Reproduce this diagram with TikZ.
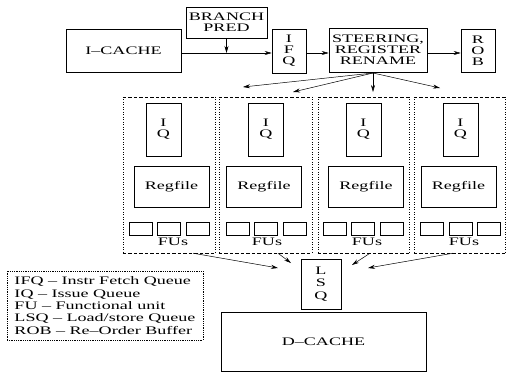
\documentclass[tikz,border=0pt]{standalone}
\usepackage{fontspec}
\setmainfont[FakeStretch=1.57]{Liberation Serif}
\usetikzlibrary{arrows.meta}
\begin{document}
\begin{tikzpicture}[x=1pt,y=-1pt,
  box/.style={draw,line width=0.6pt,inner sep=0pt,align=center,
    font=\fontsize{11.5}{11}\selectfont},
  lbl/.style={inner sep=0pt,font=\fontsize{11.5}{11}\selectfont},
  arr/.style={line width=0.5pt,-{Stealth[length=7pt,width=4pt]}},
  hdash/.style={line width=0.5pt,dash pattern=on 3.5pt off 2pt},
  vdot/.style={line width=0.6pt,dash pattern=on 1pt off 1.5pt},
  legend/.style={draw,line width=0.5pt,dash pattern=on 0.6pt off 1.2pt,inner sep=0pt,
    align=left,font=\fontsize{11.5}{12.3}\selectfont}]
\useasboundingbox (0,0) rectangle (506,373);

% top row
\node[box,minimum width=115pt,minimum height=43pt] (icache) at (123.5,50.5) {I--CACHE};
\node[box,minimum width=81pt,minimum height=31pt] (bp) at (226.5,22.5) {BRANCH\\PRED};
\node[box,minimum width=34pt,minimum height=44pt] (ifq) at (289,51) {I\\F\\Q};
\node[box,minimum width=98pt,minimum height=44pt] (steer) at (378,50) {STEERING,\\REGISTER\\RENAME};
\node[box,minimum width=34pt,minimum height=43pt] (rob) at (478,50.5) {R\\O\\B};

\coordinate (j) at (226.5,53);
\draw[line width=0.5pt] (icache.east |- j) -- (j);
\draw[arr] (j) -- (ifq.west |- j);
\draw[arr] (bp.south) -- (j);
\draw[arr] (ifq.east |- j) -- (steer.west |- j);
\draw[arr] (steer.east |- j) -- (rob.west |- j);

% clusters
\node[minimum width=92pt,minimum height=156pt,inner sep=0pt] (c1) at (169,175) {};
\node[minimum width=93pt,minimum height=156pt,inner sep=0pt] (c2) at (265.5,175) {};
\node[minimum width=91pt,minimum height=156pt,inner sep=0pt] (c3) at (363.5,175) {};
\node[minimum width=91pt,minimum height=156pt,inner sep=0pt] (c4) at (459.5,175) {};
\foreach \c in {c1,c2,c3,c4}{
  \draw[hdash] (\c.north west) -- (\c.north east);
  \draw[hdash] (\c.south west) -- (\c.south east);
  \draw[vdot] (\c.north west) -- (\c.south west);
  \draw[vdot] (\c.north east) -- (\c.south east);
}

\foreach \i/\qx/\rx/\fa/\fb/\fc/\lx in {1/163.5/171.5/140.5/168.5/197.5/173,
    2/266/264/237.5/266/294.5/267,
    3/363.5/366/334.5/363/392/367,
    4/460.5/458.5/431.5/461/489/464}{
  \node[box,minimum width=35pt,minimum height=53pt] (iq\i) at (\qx,129.5) {I\\Q};
  \node[box,minimum width=75pt,minimum height=41pt] (rf\i) at (\rx,186.5) {Regfile};
  \node[box,minimum width=23pt,minimum height=13pt] (fa\i) at (\fa,228.5) {};
  \node[box,minimum width=23pt,minimum height=13pt] (fb\i) at (\fb,228.5) {};
  \node[box,minimum width=23pt,minimum height=13pt] (fc\i) at (\fc,228.5) {};
  \node[lbl] (fl\i) at (\lx,242) {FUs};
}

% steering arrows
\coordinate (s0) at (373,73);
\coordinate (e1) at (243,87);
\coordinate (e2) at (293,92);
\coordinate (e3) at (373,92);
\coordinate (e4) at (440,88);
\foreach \e in {e1,e2,e3,e4}{\draw[arr] (s0) -- (\e);}

% LSQ and D-cache
\node[box,minimum width=40pt,minimum height=50pt,font=\fontsize{11.5}{12.5}\selectfont] (lsq) at (321,284) {L\\S\\Q};
\node[box,minimum width=205pt,minimum height=59pt] (dcache) at (323.5,341.5) {D--CACHE};

\coordinate (l1) at (278,268);
\coordinate (l2) at (291,263);
\coordinate (l3) at (352,265);
\coordinate (l4) at (368,268);
\draw[arr] ([xshift=24pt]c1.south) -- (l1);
\draw[arr] ([xshift=12.5pt]c2.south) -- (l2);
\draw[arr] ([xshift=6.5pt]c3.south) -- (l3);
\draw[arr] ([xshift=-6.5pt]c4.south) -- (l4);

% legend
\node[legend,minimum width=196pt,minimum height=69pt] (leg) at (105,305.5)
  {IFQ -- Instr Fetch Queue\\IQ -- Issue Queue\\FU -- Functional unit\\LSQ -- Load/store Queue\\ROB -- Re--Order Buffer};
\end{tikzpicture}
\end{document}
